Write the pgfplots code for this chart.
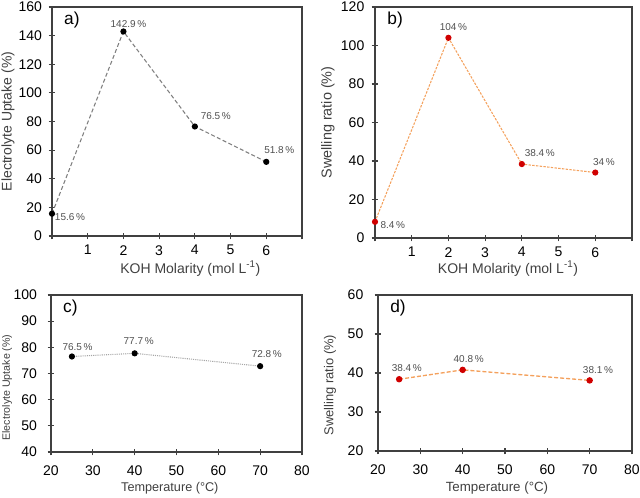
\documentclass[border=0pt]{standalone}
\usepackage{pgfplots}
\pgfplotsset{compat=1.18}
\usepackage{fontspec}
\setmainfont{Liberation Sans}

\definecolor{axisgray}{HTML}{404040}
\definecolor{linegray}{HTML}{7F7F7F}
\definecolor{lightgray}{HTML}{A6A6A6}
\definecolor{lineorange}{HTML}{F4A15D}
\definecolor{dotred}{HTML}{D00000}
\definecolor{labelgray}{HTML}{505050}

\tikzset{
  vlabel/.style={font=\fontsize{7.5}{8}\selectfont, text=labelgray},
  panelletter/.style={anchor=north west, font=\fontsize{13}{14}\selectfont, text=black},
}

\pgfplotsset{
  panel/.style={
    scale only axis,
    anchor=south west,
    axis line style={axisgray, line width=0.8pt},
    tick style={axisgray, line width=0.8pt},
    tick align=center,
    major tick length=5pt,
    xtick pos=bottom, ytick pos=left,
    /pgf/number format/assume math mode=true,
    ticklabel style={font=\fontsize{10.5}{11}\selectfont, text=black},
    clip=false,
  },
  % axis titles at fixed offsets from the axis box
  xlab/.style 2 args={xlabel style={at={(axis description cs:0.5,0)}, anchor=center,
      xshift=#1, yshift=-#2, text=axisgray}},
  % the y title is rotated by 90 degrees: its own x runs upwards, its own y to the left
  ylab/.style n args={3}{ylabel style={at={(axis description cs:0,0.5)}, anchor=center,
      yshift=#1, xshift=#2, text=axisgray, font=\fontsize{#3}{12}\selectfont}},
}

\begin{document}
\begin{tikzpicture}
\useasboundingbox (0,0) rectangle (480pt,373.5pt);

% (a) electrolyte uptake vs KOH molarity
\begin{axis}[panel,
  at={(39pt,196.5pt)}, width=187.5pt, height=171.75pt,
  xmin=0, xmax=7, ymin=0, ymax=160,
  xtick={0,...,7}, xticklabels={,1,2,3,4,5,6,},
  ytick={0,20,...,160},
  xticklabel style={yshift=-1pt},
  yticklabel style={xshift=-1.5pt},
  xlabel={KOH Molarity (mol L\textsuperscript{-1})},
  ylabel={Electrolyte Uptake (\%)},
  xlab={10pt}{24.5pt}, xlabel style={font=\fontsize{10.5}{12}\selectfont},
  ylab={33pt}{0pt}{10.5},
]
\addplot[linegray, line width=0.8pt, dash pattern=on 3pt off 1.8pt,
  mark=*, mark size=1.9pt, mark options={solid, fill=black, draw=black}]
  coordinates {(0,15.6) (2,142.9) (4,76.5) (6,51.8)};
\node[vlabel, anchor=center, xshift=13.5pt, yshift=-2.5pt] at (axis cs:0,15.6) {15.6\,\%};
\node[vlabel, anchor=center, xshift=3.75pt, yshift=5.6pt] at (axis cs:2,142.9) {142.9\,\%};
\node[vlabel, anchor=center, xshift=15.75pt, yshift=7.5pt] at (axis cs:4,76.5) {76.5\,\%};
\node[vlabel, anchor=center, xshift=9.75pt, yshift=9pt] at (axis cs:6,51.8) {51.8\,\%};
\node[panelletter] at (rel axis cs:0.03,1.0) {a)};
\end{axis}

% (b) swelling ratio vs KOH molarity
\begin{axis}[panel,
  at={(281.25pt,195pt)}, width=192.75pt, height=173.25pt,
  xmin=0, xmax=7, ymin=0, ymax=120,
  xtick={0,...,7}, xticklabels={,1,2,3,4,5,6,},
  ytick={0,20,...,120},
  xticklabel style={yshift=-1pt},
  yticklabel style={xshift=-2pt},
  xlabel={KOH Molarity (mol L\textsuperscript{-1})},
  ylabel={Swelling ratio (\%)},
  xlab={3.4pt}{23pt}, xlabel style={font=\fontsize{10.5}{12}\selectfont},
  ylab={35.25pt}{0pt}{10.8},
]
\addplot[lineorange, line width=0.8pt, dash pattern=on 1.8pt off 1pt,
  mark=*, mark size=1.9pt, mark options={solid, fill=dotred, draw=dotred}]
  coordinates {(0,8.4) (2,104) (4,38.4) (6,34)};
\node[vlabel, anchor=center, xshift=13.3pt, yshift=-2.25pt] at (axis cs:0,8.4) {8.4\,\%};
\node[vlabel, anchor=center, xshift=3.75pt, yshift=8.25pt] at (axis cs:2,104) {104\,\%};
\node[vlabel, anchor=center, xshift=13.5pt, yshift=8pt] at (axis cs:4,38.4) {38.4\,\%};
\node[vlabel, anchor=center, xshift=6.5pt, yshift=7.5pt] at (axis cs:6,34) {34\,\%};
\node[panelletter] at (rel axis cs:0.03,1.0) {b)};
\end{axis}

% (c) electrolyte uptake vs temperature
\begin{axis}[panel,
  at={(38.25pt,34.5pt)}, width=188.25pt, height=117.75pt,
  xmin=20, xmax=80, ymin=40, ymax=100,
  xtick={20,30,...,80}, ytick={40,50,...,100},
  xticklabel style={yshift=-4pt},
  yticklabel style={xshift=-4.5pt},
  xlabel={Temperature (\textdegree C)},
  ylabel={Electrolyte Uptake (\%)},
  xlab={-5pt}{27pt}, xlabel style={font=\fontsize{9.5}{12}\selectfont},
  ylab={33pt}{-10.5pt}{8},
]
\addplot[lightgray, line width=0.8pt, dash pattern=on 0.8pt off 0.8pt,
  mark=*, mark size=1.9pt, mark options={solid, fill=black, draw=black}]
  coordinates {(25,76.5) (40,77.7) (70,72.8)};
\node[vlabel, anchor=center, xshift=4.25pt, yshift=7.25pt] at (axis cs:25,76.5) {76.5\,\%};
\node[vlabel, anchor=center, xshift=3pt, yshift=9pt] at (axis cs:40,77.7) {77.7\,\%};
\node[vlabel, anchor=center, xshift=5pt, yshift=9pt] at (axis cs:70,72.8) {72.8\,\%};
\node[panelletter] at (rel axis cs:0.03,1.0) {c)};
\end{axis}

% (d) swelling ratio vs temperature
\begin{axis}[panel,
  at={(283.5pt,35.25pt)}, width=190.5pt, height=117pt,
  xmin=20, xmax=80, ymin=20, ymax=60,
  xtick={20,30,...,80}, ytick={20,30,...,60},
  xticklabel style={yshift=-4pt},
  yticklabel style={xshift=-5pt},
  xlabel={Temperature (\textdegree C)},
  ylabel={Swelling ratio (\%)},
  xlab={-6pt}{27.75pt}, xlabel style={font=\fontsize{10}{12}\selectfont},
  ylab={36pt}{-9pt}{9.7},
]
\addplot[lineorange, line width=1pt, dash pattern=on 3pt off 1.5pt,
  mark=*, mark size=1.9pt, mark options={solid, fill=dotred, draw=dotred}]
  coordinates {(25,38.4) (40,40.8) (70,38.1)};
\node[vlabel, anchor=center, xshift=5.75pt, yshift=8.75pt] at (axis cs:25,38.4) {38.4\,\%};
\node[vlabel, anchor=center, xshift=4.5pt, yshift=8pt] at (axis cs:40,40.8) {40.8\,\%};
\node[vlabel, anchor=center, xshift=6.25pt, yshift=7.5pt] at (axis cs:70,38.1) {38.1\,\%};
\node[panelletter] at (rel axis cs:0.03,1.0) {d)};
\end{axis}
\end{tikzpicture}
\end{document}
